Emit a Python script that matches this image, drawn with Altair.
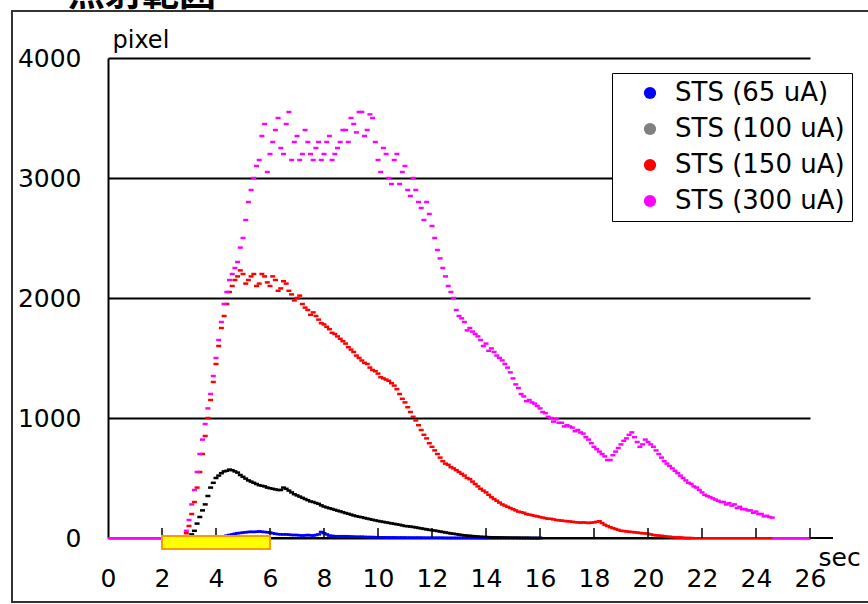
import altair as alt
import pandas as pd

title_text = "照射範囲"
x_title = "sec"
y_title = "pixel"
series_names = ["STS (65 uA)", "STS (100 uA)", "STS (150 uA)", "STS (300 uA)"]
mark_colors = ["#0000FF", "#000000", "#FF0000", "#FF00FF"]
legend_colors = ["#0000FF", "#808080", "#FF0000", "#FF00FF"]

x_labels = [0, 2, 4, 6, 8, 10, 12, 14, 16, 18, 20, 22, 24, 26]
x_ticks = [2, 4, 6, 8, 10, 12, 14, 16, 18, 20, 22, 24, 26]
y_labels = [0, 1000, 2000, 3000, 4000]

step = 0.2  # interval between readings in each list (sec)

# --- STS (65 uA): readings at 4.2, 4.4, ... and at 4.3, 4.5, ...
blue_start = 4.2
blue_vals = [5, 20, 30, 40, 45, 50, 50, 55, 50, 45,
             35, 30, 30, 25, 25, 20, 25, 20, 30, 40,
             20, 15, 15, 15, 12, 10, 10, 8, 8, 6,
             6, 5, 5, 4, 4, 3, 3, 3, 2, 2,
             2, 2, 1, 1, 1, 1, 1, 1, 0, 0,
             0, 0, 0, 0, 0, 0, 0, 0, 0, 0]
blue_start_b = 4.3
blue_vals_b = [12, 25, 35, 42, 48, 52, 52, 52, 48, 40,
               32, 30, 28, 25, 22, 22, 22, 25, 50, 30,
               18, 15, 15, 14, 11, 10, 9, 8, 7, 6,
               5, 5, 4, 4, 3, 3, 3, 2, 2, 2,
               2, 1, 1, 1, 1, 1, 1, 0, 0, 0,
               0, 0, 0, 0, 0, 0, 0, 0, 0]

# --- STS (100 uA)
black_start = 3.0
black_vals = [0, 60, 175, 280, 420, 500, 540, 560, 565, 545,
              510, 480, 460, 440, 430, 415, 405, 400, 410, 380,
              355, 335, 315, 300, 285, 262, 248, 235, 222, 208,
              195, 182, 172, 162, 152, 142, 134, 126, 118, 110,
              100, 95, 88, 80, 72, 65, 58, 50, 42, 35,
              28, 22, 18, 14, 10, 8, 6, 5, 4, 3,
              2, 2, 1, 1, 0, 0]
black_start_b = 3.1
black_vals_b = [30, 120, 230, 350, 460, 520, 555, 570, 555, 525,
                495, 470, 450, 435, 420, 410, 400, 420, 395, 365,
                345, 325, 305, 292, 272, 255, 242, 228, 215, 202,
                188, 177, 167, 157, 147, 138, 130, 122, 114, 105,
                98, 92, 84, 76, 68, 62, 54, 46, 38, 32,
                25, 20, 16, 12, 9, 7, 5, 4, 3, 2,
                2, 1, 1, 0, 0]

# --- STS (150 uA)
red_start = 2.8
red_vals = [0, 100, 300, 550, 850, 1150, 1450, 1750, 1950, 2100,
            2180, 2200, 2150, 2200, 2120, 2180, 2100, 2150, 2080, 2120,
            2030, 2000, 1950, 1900, 1880, 1820, 1780, 1740, 1700, 1660,
            1620, 1570, 1520, 1480, 1450, 1400, 1370, 1330, 1310, 1270,
            1200, 1130, 1050, 980, 900, 830, 760, 700, 640, 610,
            580, 550, 520, 490, 450, 410, 380, 340, 310, 280,
            260, 240, 220, 210, 195, 185, 175, 165, 160, 150,
            145, 140, 135, 130, 130, 125, 130, 140, 110, 90,
            75, 60, 55, 50, 45, 40, 35, 25, 20, 15,
            10, 5, 5, 0, 0]
red_start_b = 2.9
red_vals_b = [40, 200, 420, 700, 1000, 1300, 1600, 1850, 2050, 2150,
              2230, 2120, 2180, 2100, 2200, 2130, 2180, 2060, 2140, 2060,
              1980, 2020, 1920, 1860, 1850, 1790, 1760, 1710, 1680, 1640,
              1590, 1550, 1500, 1460, 1420, 1390, 1340, 1320, 1290, 1240,
              1160, 1090, 1010, 940, 860, 790, 730, 670, 620, 590,
              565, 535, 500, 470, 430, 395, 360, 325, 295, 270,
              250, 230, 215, 200, 190, 180, 170, 160, 155, 148,
              142, 138, 132, 128, 128, 128, 135, 125, 100, 82,
              68, 58, 52, 48, 42, 38, 30, 22, 18, 12,
              8, 5, 2, 0]

# --- STS (300 uA)
pink_start = 2.8
pink_vals = [0, 150, 400, 700, 950, 1200, 1500, 1800, 2050, 2200,
             2300, 2500, 2800, 3000, 3150, 3450, 3200, 3400, 3250, 3450,
             3150, 3350, 3200, 3300, 3150, 3300, 3200, 3350, 3200, 3300,
             3400, 3500, 3380, 3550, 3400, 3500, 3150, 3250, 3000, 3150,
             2950, 3100, 2850, 2900, 2750, 2800, 2600, 2400, 2250, 2100,
             2000, 1850, 1800, 1750, 1700, 1650, 1620, 1580, 1520, 1480,
             1420, 1330, 1250, 1180, 1150, 1120, 1080, 1040, 1000, 990,
             960, 940, 920, 900, 870, 820, 760, 720, 680, 650,
             720, 780, 830, 880, 800, 780, 800, 760, 700, 640,
             600, 560, 520, 480, 450, 420, 380, 350, 330, 310,
             300, 290, 280, 260, 240, 230, 220, 200, 185, 170]
pink_start_b = 2.9
pink_vals_b = [60, 280, 550, 820, 1080, 1350, 1650, 1950, 2150, 2250,
               2420, 2650, 2900, 3100, 3350, 3050, 3300, 3500, 3200, 3550,
               3300, 3150, 3400, 3200, 3250, 3150, 3300, 3150, 3250, 3400,
               3300, 3450, 3550, 3350, 3530, 3300, 3050, 3200, 2950, 3200,
               3050, 2900, 3000, 2800, 2650, 2700, 2500, 2330, 2180, 2050,
               1900, 1830, 1730, 1720, 1680, 1600, 1560, 1550, 1500, 1450,
               1380, 1280, 1200, 1140, 1130, 1100, 1050, 1010, 970, 960,
               930, 930, 890, 880, 840, 790, 740, 700, 650, 690,
               750, 810, 860, 840, 760, 820, 780, 730, 670, 620,
               580, 540, 500, 460, 430, 400, 360, 340, 320, 300,
               280, 270, 250, 240, 230, 210, 200, 180, 175]

# zero-level stretches drawn on the baseline
zero_series = [series_names[3], series_names[2], series_names[3]]
zero_start = [0.0, 21.6, 24.6]
zero_end = [2.8, 24.6, 26.0]

# irradiation period
irr_start = [2.0]
irr_end = [6.0]

font = "DejaVu Sans"

rows = []
for name, parts in [(series_names[0], [(blue_start, blue_vals), (blue_start_b, blue_vals_b)]),
                    (series_names[1], [(black_start, black_vals), (black_start_b, black_vals_b)]),
                    (series_names[2], [(red_start, red_vals), (red_start_b, red_vals_b)]),
                    (series_names[3], [(pink_start, pink_vals), (pink_start_b, pink_vals_b)])]:
    for start, vals in parts:
        for i, v in enumerate(vals):
            rows.append({"series": name, "t": round(start + i * step, 2), "v": v})
df = pd.DataFrame(rows)

zero_df = pd.DataFrame({"series": zero_series, "t": zero_start, "t2": zero_end})
ticks_df = pd.DataFrame({"t": x_ticks})
band_df = pd.DataFrame({"t": irr_start, "t2": irr_end})
legend_df = pd.DataFrame({"label": series_names})
one_df = pd.DataFrame({"a": [0]})
title_df = pd.DataFrame({"label": [title_text]})

xscale = alt.Scale(domain=[0, 26], nice=False, zero=False)
yscale = alt.Scale(domain=[0, 4000], nice=False)

x_axis = alt.Axis(values=x_labels, domain=False, ticks=False, grid=False,
                  labelPadding=28, labelFlush=False, labelOverlap=False,
                  labelFont=font, labelFontSize=25, labelColor="#000",
                  title=x_title, titleX=710, titleY=27, titleAlign="left",
                  titleBaseline="alphabetic", titleFontWeight="normal",
                  titleFont=font, titleFontSize=25, titleColor="#000")
y_axis = alt.Axis(values=y_labels, format="d", domain=True, domainColor="#000",
                  domainWidth=2, ticks=False, tickSize=0, grid=True,
                  gridColor="#000", gridWidth=2, gridOpacity=1,
                  labelPadding=27, labelFlush=False, labelOverlap=False,
                  labelFont=font, labelFontSize=25, labelColor="#000",
                  title=y_title, titleAngle=0, titleX=4, titleY=-11,
                  titleAlign="left", titleBaseline="alphabetic",
                  titleFontWeight="normal", titleFont=font, titleFontSize=24,
                  titleColor="#000")

data_color = alt.Color("series:N", scale=alt.Scale(domain=series_names, range=mark_colors), legend=None)

frame = alt.Chart(one_df).mark_rect(fillOpacity=0, stroke="#333333", strokeWidth=2).encode(
    x=alt.value(-96), x2=alt.value(775), y=alt.value(-47), y2=alt.value(544))

axis_line = alt.Chart(one_df).mark_rule(color="#000", strokeWidth=2).encode(
    x=alt.value(0), x2=alt.value(725), y=alt.value(480))

zero_lines = alt.Chart(zero_df).mark_rule(strokeWidth=2).encode(
    x=alt.X("t:Q", scale=xscale, axis=x_axis), x2="t2:Q",
    y=alt.datum(0, scale=yscale), color=data_color)

points = alt.Chart(df).mark_tick(orient="horizontal", size=5, thickness=2.5, opacity=1).encode(
    x=alt.X("t:Q", scale=xscale, axis=x_axis),
    y=alt.Y("v:Q", scale=yscale, axis=y_axis),
    color=data_color)

tick_marks = alt.Chart(ticks_df).mark_rule(color="#000", strokeWidth=1.5).encode(
    x=alt.X("t:Q", scale=xscale, axis=x_axis), y=alt.value(480), y2=alt.value(470))

band = alt.Chart(band_df).mark_rect(fill="#FFFF00", stroke="#FF9900", strokeWidth=2).encode(
    x=alt.X("t:Q", scale=xscale, axis=x_axis), x2="t2:Q", y=alt.value(478), y2=alt.value(491))

legend_layer = alt.Chart(legend_df).mark_point(filled=True, size=150, opacity=1).encode(
    x=alt.value(-500), y=alt.value(-500),
    color=alt.Color("label:N", scale=alt.Scale(domain=series_names, range=legend_colors),
                    legend=alt.Legend(title=None, orient="none", legendX=504, legendY=15,
                                      symbolType="circle", symbolSize=150, symbolOpacity=1,
                                      symbolStrokeWidth=0, labelFont=font, labelFontSize=26,
                                      labelColor="#000", labelLimit=400, padding=7,
                                      rowPadding=10, symbolOffset=18, labelOffset=12,
                                      strokeColor="#000", fillColor="#FFFFFF")))

title_mark = alt.Chart(title_df).mark_text(font="Noto Sans CJK JP", fontSize=37, fontWeight="bold",
                                           align="left", baseline="alphabetic", color="#000").encode(
    text="label:N", x=alt.value(-40), y=alt.value(-52))

chart = alt.layer(frame, axis_line, zero_lines, points, tick_marks, band, legend_layer, title_mark).resolve_scale(
    color="independent"
).properties(
    width=702, height=480,
    autosize=alt.AutoSizeParams(type="none"),
    padding={"left": 108, "top": 58, "right": 58, "bottom": 66},
    background="#FFFFFF",
).configure_view(strokeWidth=0)

chart.save("out.html", embed_options={"renderer": "svg", "actions": False})
